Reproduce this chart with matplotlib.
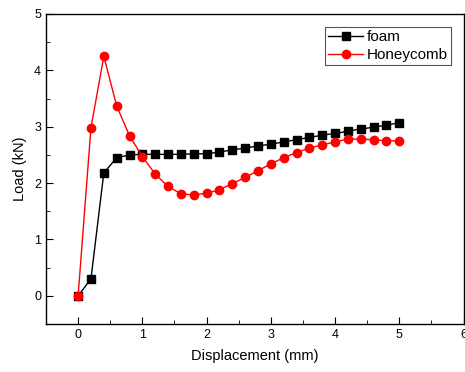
import numpy as np
import matplotlib
matplotlib.use('Agg')
import matplotlib.pyplot as plt
from matplotlib.ticker import MultipleLocator

displacement = [0.0, 0.2, 0.4, 0.6, 0.8, 1.0, 1.2, 1.4, 1.6, 1.8, 2.0, 2.2, 2.4,
                2.6, 2.8, 3.0, 3.2, 3.4, 3.6, 3.8, 4.0, 4.2, 4.4, 4.6, 4.8, 5.0]
foam = [0.0, 0.30, 2.18, 2.45, 2.50, 2.51, 2.51, 2.51, 2.51, 2.52, 2.52, 2.55, 2.59,
        2.62, 2.66, 2.69, 2.73, 2.77, 2.81, 2.85, 2.88, 2.92, 2.96, 2.99, 3.03, 3.07]
honeycomb = [0.0, 2.98, 4.25, 3.37, 2.84, 2.47, 2.16, 1.94, 1.81, 1.79, 1.82, 1.88, 1.99,
             2.10, 2.22, 2.34, 2.45, 2.54, 2.62, 2.68, 2.73, 2.78, 2.78, 2.77, 2.75, 2.75]

plt.rcParams['font.family'] = ['Liberation Sans', 'DejaVu Sans']
fontsize = 9

fig = plt.figure(figsize=(4.65, 3.72), dpi=100)
ax = fig.add_axes([46 / 465, 1 - 324 / 372, 417.5 / 465, 310 / 372])

ax.plot(displacement, foam, color='black', marker='s', markersize=5.5, linewidth=1, label='foam')
ax.plot(displacement, honeycomb, color='red', marker='o', markersize=6, linewidth=1, label='Honeycomb')

ax.set_xlim(-0.5, 6)
ax.set_ylim(-0.5, 5)
ax.xaxis.set_major_locator(MultipleLocator(1))
ax.xaxis.set_minor_locator(MultipleLocator(0.5))
ax.yaxis.set_major_locator(MultipleLocator(1))
ax.yaxis.set_minor_locator(MultipleLocator(0.5))
ax.tick_params(which='both', direction='in', top=False, right=False, labelsize=fontsize)
ax.tick_params(which='major', length=5)
ax.tick_params(which='minor', length=3)
for s in ax.spines.values():
    s.set_linewidth(1)

ax.set_xlabel('Displacement (mm)', fontsize=10.5, labelpad=6)
ax.set_ylabel('Load (kN)', fontsize=10.5, labelpad=5)

leg = ax.legend(loc='upper right', bbox_to_anchor=(0.97, 0.957), fontsize=11,
                fancybox=False, framealpha=1, edgecolor='#555555', borderpad=0.2,
                handlelength=2.3, handletextpad=0.25, labelspacing=0.25, borderaxespad=0)
leg.get_frame().set_linewidth(0.8)

fig.savefig('out.png', dpi=100)
